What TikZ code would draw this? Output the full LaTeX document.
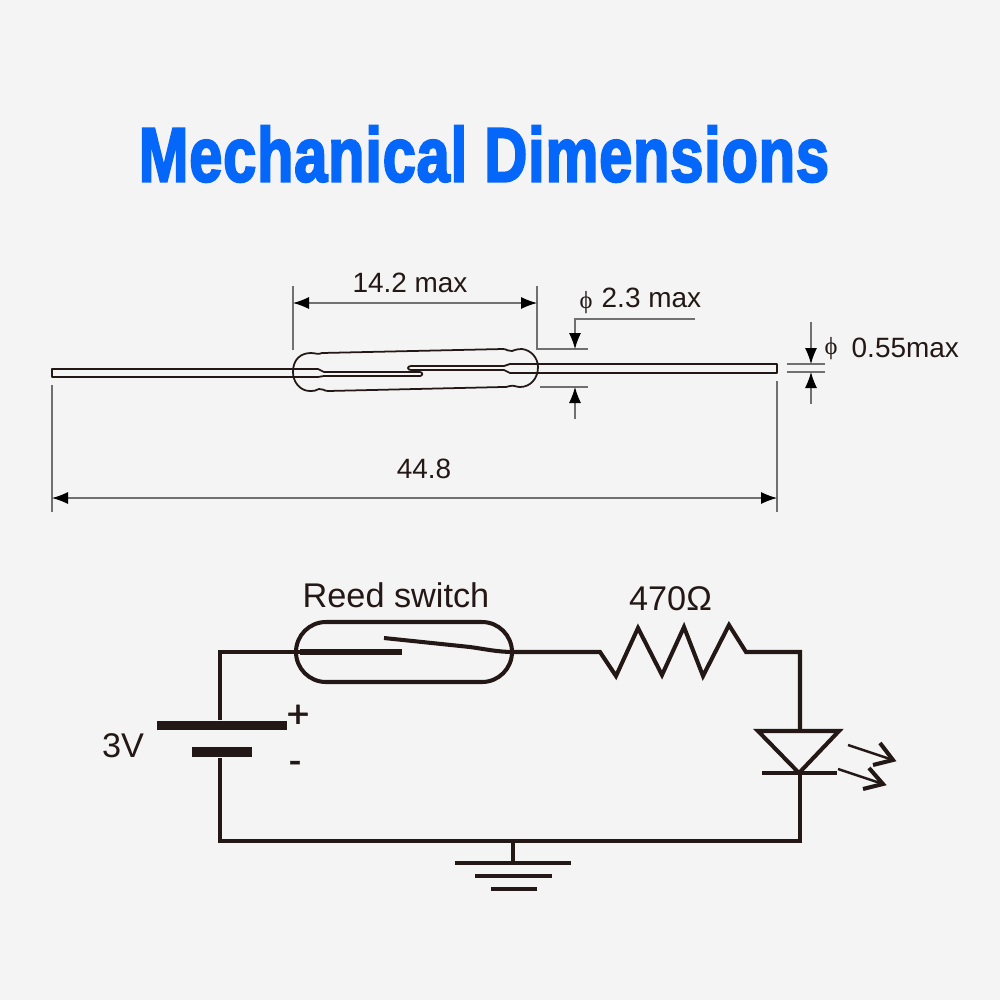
\documentclass[tikz,border=0pt]{standalone}
\usepackage{fontspec}
\setmainfont{Liberation Sans}
\newfontfamily\phifont{Liberation Serif}
\newfontfamily\titlefont[FakeBold=3.2, LetterSpace=1.5]{Liberation Sans Bold}
\newfontfamily\signfont[FakeBold=1]{Liberation Sans}
\usetikzlibrary{positioning,calc,arrows.meta,shapes.misc}
\definecolor{inkdark}{HTML}{231815}
\definecolor{dimgray}{HTML}{707070}
\definecolor{titleblue}{HTML}{0566FA}
\definecolor{pagegray}{HTML}{F4F4F4}
\tikzset{
  figfont/.style={font=\fontsize{7.95}{9}\selectfont, text=inkdark, inner sep=0pt},
  circfont/.style={font=\fontsize{9.75}{11}\selectfont, text=inkdark, inner sep=0pt},
  signfont/.style={font=\signfont\fontsize{11}{12}\selectfont, text=inkdark, inner sep=0pt},
  partline/.style={draw=inkdark, line width=0.5pt, line join=round},
  dimline/.style={draw=dimgray, line width=0.3pt},
  dimarrow/.style={dimline, -{Latex[length=1.6mm, width=1.2mm, color=black]}},
  dimboth/.style={dimline, {Latex[length=1.6mm, width=1.2mm, color=black]}-{Latex[length=1.6mm, width=1.2mm, color=black]}},
  wire/.style={draw=inkdark, line width=1.15pt, line join=miter},
  plate/.style={draw=none, fill=inkdark},
  reedbody/.style={rounded rectangle, draw=inkdark, line width=1.15pt, minimum width=21.6mm, minimum height=6mm, inner sep=0pt},
}
\begin{document}
\begin{tikzpicture}[x=0.1mm, y=-0.1mm]
	\fill[pagegray] (0,0) rectangle (1000,1000);
	\useasboundingbox (0,0) rectangle (1000,1000);

	% Title
	\node[font=\titlefont\fontsize{21.8}{24}\selectfont, text=titleblue, xscale=0.775, inner sep=0pt] (title) at (484,154) {Mechanical Dimensions};

	% Leads and glass tube
	\coordinate (leadL) at (52,369);
	\coordinate (leadR) at (777,364);
	\draw[partline] (293,369) -- (leadL) -- (52,377) -- (293,377);
	\draw[partline] (538,364) -- (leadR) -- (777,373) -- (538,373);
	\draw[partline] (293,372) .. controls (293,359) and (301,353) .. (311,353)
		.. controls (316,353) and (318,355) .. (322,353) -- (503,349)
		.. controls (507,349) and (509,352) .. (512,351)
		.. controls (517,349) and (520,349) .. (522,349)
		.. controls (531,350) and (538,358) .. (538,367)
		.. controls (538,379) and (530,387) .. (520,387)
		.. controls (516,387) and (514,385) .. (510,386)
		.. controls (508,387) and (505,387) .. (503,387) -- (328,391)
		.. controls (324,391) and (322,388) .. (319,389)
		.. controls (316,391) and (313,391) .. (310,391)
		.. controls (300,391) and (293,382) .. (293,372) -- cycle;
	% Blades inside the tube
	\draw[partline] (293,369) -- (318,369) .. controls (321,369) and (321,372) .. (324,372) -- (420,372)
		.. controls (423,372) and (423,376) .. (420,376) -- (324,376)
		.. controls (321,376) and (321,377) .. (318,377) -- (293,377);
	\draw[partline] (538,364) -- (510,364) .. controls (507,364) and (507,366) .. (504,366) -- (411,366)
		.. controls (407,366) and (407,370) .. (411,370) -- (504,370)
		.. controls (507,370) and (507,373) .. (510,373) -- (538,373);

	% Length of the tube
	\coordinate (tubeTL) at (293,286);
	\coordinate (tubeTR) at (537,286);
	\draw[dimline] (tubeTL) -- (293,350);
	\draw[dimline] (tubeTR) -- (537,349) -- (588,349);
	\draw[dimboth] (293,303) -- (537,303);
	\node[figfont] (lenlabel) at (410,283) {14.2 max};

	% Tube diameter
	\coordinate (dialead) at (695,319);
	\draw[dimarrow] (dialead) -- (575,319) -- (575,349);
	\draw[dimline] (540,387) -- (588,387);
	\draw[dimarrow] (575,419) -- (575,387);
	\node[font=\phifont\fontsize{7}{8}\selectfont, text=inkdark, inner sep=0pt] (diaphi) at (586,303) {ϕ};
	\node[figfont, anchor=west] (dialabel) at (601,298) {2.3 max};

	% Lead diameter
	\draw[dimline] (787,364) -- (825,364);
	\draw[dimline] (787,372) -- (825,372);
	\draw[dimarrow] (811,322) -- (811,364);
	\draw[dimarrow] (811,404) -- (811,372);
	\node[font=\phifont\fontsize{7}{8}\selectfont, text=inkdark, inner sep=0pt] (leadphi) at (831,349) {ϕ};
	\node[figfont, anchor=west] (leadlabel) at (851,348) {0.55max};

	% Overall length
	\draw[dimline] (52,385) -- (52,512);
	\draw[dimline] (777,381) -- (777,512);
	\draw[dimboth] (52,498) -- (777,498);
	\node[figfont] (totallabel) at (424,469) {44.8};

	% Circuit
	\coordinate (cornerTL) at (220,652);
	\coordinate (cornerTR) at (800,652);
	\coordinate (cornerBL) at (220,841);
	\coordinate (cornerBR) at (800,841);
	\coordinate (gndtop) at (513,841);
	\coordinate (gndbar) at (513,863);
	\node[reedbody] (reed) at (404,652) {};
	\node[circfont] (reedlabel) at (396,595) {Reed switch};
	\node[circfont] (reslabel) at (670.5,599) {470Ω};
	\node[circfont] (batlabel) at (123,746) {3V};
	\node[signfont] (batplus) at (298,716) {+};
	\node[signfont] (batminus) at (295,767) {-};

	% Battery plates
	\node[plate, minimum width=13mm, minimum height=0.9mm, inner sep=0pt] (batpos) at (222,725.5) {};
	\node[plate, minimum width=6mm, minimum height=1mm, inner sep=0pt] (batneg) at (222,752) {};

	% Wires
	\draw[wire] (batpos.north -| cornerTL) -- (cornerTL) -- (300,652);
	\draw[wire, line width=1.5pt] (300,652) -- (402,652);
	\draw[wire] (384,638) -- (470,647) .. controls (485,649) and (497,652) .. (reed.east);
	\draw[wire] (reed.east) -- (600,652) -- (616,676) -- (638,628) -- (662,675) -- (684,627) -- (703,676) -- (729,625) -- (746,652) -- (cornerTR) -- (800,731);
	\draw[wire] (batneg.south -| cornerBL) -- (cornerBL) -- (cornerBR) -- (800,772);
	\draw[wire] (gndtop) -- (gndbar);

	% Ground
	\draw[wire, line width=1.3pt] (455,863) -- (571,863);
	\draw[wire, line width=1.3pt] (475,876) -- (552,876);
	\draw[wire, line width=1.3pt] (491,889) -- (537,889);

	% LED
	\draw[wire] (758,731) -- (839,731) -- (799,773) -- cycle;
	\draw[wire] (762,773) -- (837,773);
	\draw[draw=inkdark, line width=0.7pt] (848,745) -- (893,760);
	\draw[wire] (880,743) -- (893,760) -- (873,765);
	\draw[draw=inkdark, line width=0.7pt] (838,769) -- (883,784);
	\draw[wire] (869,768) -- (883,784) -- (863,789);
\end{tikzpicture}
\end{document}
